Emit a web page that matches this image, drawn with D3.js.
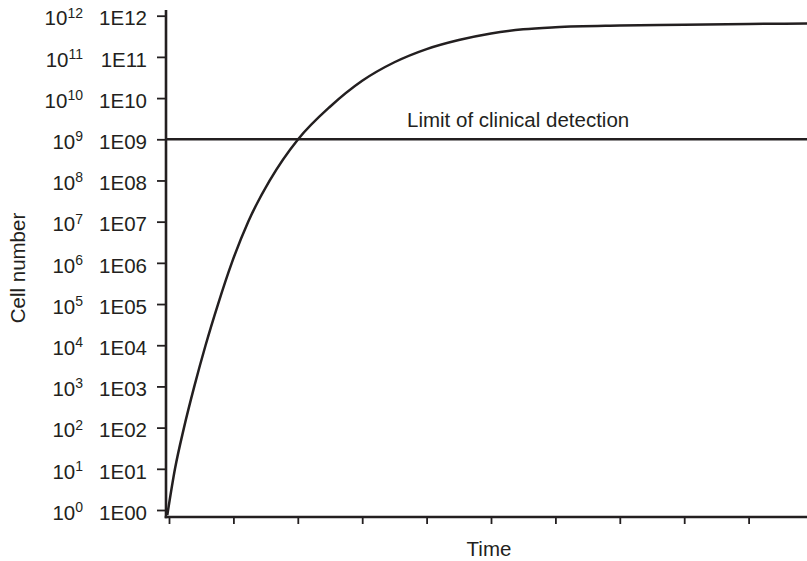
<!DOCTYPE html>
<html>
<head>
<meta charset="utf-8">
<script src="https://cdn.jsdelivr.net/npm/d3@7"></script>
<style>
  html, body { margin: 0; padding: 0; background: #fff; }
  svg { display: block; font-family: "Liberation Sans", Arial, sans-serif; }
</style>
</head>
<body>
<svg id="chart" width="807" height="561"></svg>
<script>
// ---- data ----
const timePoints = [-0.026, 0.093, 0.233, 0.393, 0.568, 0.762, 0.975, 1.23, 1.565, 2.005, 2.5, 3.0, 3.5, 4.0, 4.5, 5.0, 5.5, 6.0, 7.0, 8.0, 9.0, 9.91];
const logCells   = [-0.12, 1, 2, 3, 4, 5, 6, 7, 8, 9, 9.79, 10.42, 10.87, 11.19, 11.41, 11.57, 11.67, 11.72, 11.76, 11.78, 11.80, 11.81];
const yExponents = [0, 1, 2, 3, 4, 5, 6, 7, 8, 9, 10, 11, 12];
const xTickValues = [0, 1, 2, 3, 4, 5, 6, 7, 8, 9];
const detectionLimit = 1e9;
const detectionLabel = "Limit of clinical detection";
const xTitle = "Time";
const yTitle = "Cell number";

const ink = "#231f20";
const svg = d3.select("#chart");

const x = d3.scaleLinear().domain([0, 10]).range([169, 813]);
const y = d3.scaleLog().domain([1, 1e12]).range([510, 15.7]);

const axisX0 = 166, axisY0 = 517;

// y ticks
const yAxis = d3.axisLeft(y)
  .tickValues(yExponents.map(e => Math.pow(10, e)))
  .tickSize(9)
  .tickPadding(10)
  .tickFormat(d => "1E" + String(Math.round(Math.log10(d))).padStart(2, "0"));
const gy = svg.append("g").attr("transform", `translate(${axisX0},0)`).call(yAxis);
gy.select(".domain").remove();
gy.selectAll(".tick line").attr("stroke", ink).attr("stroke-width", 1.8);
gy.selectAll(".tick text")
  .attr("fill", ink).attr("font-size", 20.5)
  .attr("font-family", "Liberation Sans, Arial, sans-serif")
  .attr("dy", "0.45em");

// superscript labels
gy.selectAll(".tick").each(function(d) {
  const e = Math.round(Math.log10(d));
  const t = d3.select(this).append("text")
    .attr("x", 83 - axisX0).attr("y", 0).attr("dy", "0.45em")
    .attr("text-anchor", "end")
    .attr("fill", ink)
    .attr("font-size", 20.5)
    .attr("font-family", "Liberation Sans, Arial, sans-serif");
  t.append("tspan").text("10");
  t.append("tspan").attr("font-size", 14).attr("dy", "-0.55em").text(String(e));
});

// x ticks
const xAxis = d3.axisBottom(x).tickValues(xTickValues).tickSize(7).tickFormat("");
const gx = svg.append("g").attr("transform", `translate(0,${axisY0})`).call(xAxis);
gx.select(".domain").remove();
gx.selectAll(".tick line").attr("stroke", ink).attr("stroke-width", 1.8);

// axis lines
svg.append("line").attr("x1", axisX0).attr("x2", axisX0).attr("y1", 10).attr("y2", axisY0 + 1.2)
  .attr("stroke", ink).attr("stroke-width", 2.6);
svg.append("line").attr("x1", axisX0 - 1.3).attr("x2", 807).attr("y1", axisY0).attr("y2", axisY0)
  .attr("stroke", ink).attr("stroke-width", 2.6);

// detection limit
svg.append("line").attr("x1", axisX0).attr("x2", 807)
  .attr("y1", y(detectionLimit)).attr("y2", y(detectionLimit))
  .attr("stroke", ink).attr("stroke-width", 2.4);
svg.append("text").attr("x", 407).attr("y", y(detectionLimit) - 12.5)
  .attr("fill", ink).attr("font-size", 20.5).text(detectionLabel);

// growth curve
const pts = timePoints.map((t, i) => [t, Math.pow(10, logCells[i])]);
const line = d3.line().x(d => x(d[0])).y(d => y(d[1])).curve(d3.curveMonotoneX);
svg.append("path").datum(pts).attr("d", line)
  .attr("fill", "none").attr("stroke", ink).attr("stroke-width", 2.5);

// titles
svg.append("text").attr("x", 489).attr("y", 556).attr("text-anchor", "middle")
  .attr("fill", ink).attr("font-size", 20.5).text(xTitle);
svg.append("text").attr("transform", "translate(25,268) rotate(-90)")
  .attr("text-anchor", "middle").attr("fill", ink).attr("font-size", 20.5).text(yTitle);
</script>
</body>
</html>
